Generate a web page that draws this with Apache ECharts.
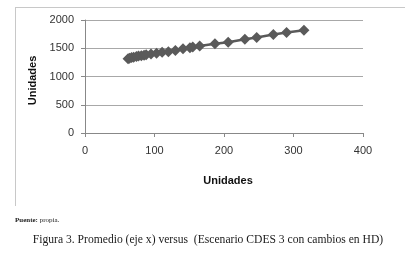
<!DOCTYPE html>
<html>
<head>
<meta charset="utf-8">
<script src="https://cdn.jsdelivr.net/npm/echarts@6/dist/echarts.min.js"></script>
<style>
html,body{margin:0;padding:0;background:#fff;}
#c{width:405px;height:256px;}
</style>
</head>
<body>
<div id="c"></div>
<script>
var xValues = [62, 64, 67, 70, 74, 77, 81, 85, 88, 95, 103, 111, 120, 130, 141, 151, 155, 165, 187, 206, 230, 247, 271, 290, 315];
var yValues = [1315, 1322, 1335, 1342, 1355, 1362, 1368, 1378, 1386, 1398, 1410, 1427, 1440, 1462, 1490, 1510, 1520, 1540, 1578, 1608, 1660, 1692, 1742, 1779, 1820];
var xTicks = [0, 100, 200, 300, 400];
var yTicks = [0, 500, 1000, 1500, 2000];
var axisTitleX = 'Unidades';
var axisTitleY = 'Unidades';
var sourceLabel = 'Puente:';
var sourceText = ' propia.';
var caption = 'Figura 3. Promedio (eje x) versus  (Escenario CDES 3 con cambios en HD)';

var points = xValues.map(function (x, i) { return [x, yValues[i]]; });

var chart = echarts.init(document.getElementById('c'), null, {renderer: 'canvas'});
chart.setOption({
  animation: false,
  backgroundColor: '#ffffff',
  grid: {left: 85, right: 42, top: 20, bottom: 123, containLabel: false},
  xAxis: {
    type: 'value',
    min: xTicks[0], max: xTicks[xTicks.length - 1], interval: 100,
    name: axisTitleX, nameLocation: 'middle', nameGap: 42,
    nameTextStyle: {fontFamily: 'Liberation Sans, Arial', fontWeight: 'bold', fontSize: 11, color: '#111', padding: [0, 0, 0, 8]},
    axisLine: {show: true, lineStyle: {color: '#888', width: 1}},
    axisTick: {show: true, inside: false, length: 4, lineStyle: {color: '#888'}},
    axisLabel: {margin: 12, fontFamily: 'Liberation Sans, Arial', fontSize: 11, color: '#333',
      formatter: function (v) { return String(v); }},
    splitLine: {show: false}
  },
  yAxis: {
    type: 'value',
    min: yTicks[0], max: yTicks[yTicks.length - 1], interval: 500,
    name: axisTitleY, nameLocation: 'middle', nameGap: 46,
    nameTextStyle: {fontFamily: 'Liberation Sans, Arial', fontWeight: 'bold', fontSize: 11, color: '#111', padding: [0, 8, 0, 0]},
    axisLine: {show: true, lineStyle: {color: '#888', width: 1}},
    axisTick: {show: true, inside: false, length: 4, lineStyle: {color: '#888'}},
    axisLabel: {margin: 11, fontFamily: 'Liberation Sans, Arial', fontSize: 11, color: '#333',
      formatter: function (v) { return String(v); }},
    splitLine: {show: true, lineStyle: {color: '#a8a8a8', width: 1}}
  },
  series: [{
    type: 'line',
    data: points,
    symbol: 'diamond',
    symbolSize: 11,
    lineStyle: {color: '#5a5a5a', width: 2.5},
    itemStyle: {color: '#5a5a5a'}
  }],
  graphic: [
    {type: 'line', shape: {x1: 15, y1: 7.5, x2: 405, y2: 7.5}, style: {stroke: '#c8c8c8', lineWidth: 1}},
    {type: 'line', shape: {x1: 15.5, y1: 7, x2: 15.5, y2: 206}, style: {stroke: '#c8c8c8', lineWidth: 1}},
    {type: 'text', left: 15, top: 217, style: {
      text: '{b|' + sourceLabel + '}{n|' + sourceText + '}',
      rich: {
        b: {fontFamily: 'Liberation Serif, serif', fontWeight: 'bold', fontSize: 7, fill: '#222'},
        n: {fontFamily: 'Liberation Serif, serif', fontSize: 7, fill: '#222'}
      }
    }},
    {type: 'text', x: 208, y: 240, style: {
      text: caption, fontFamily: 'Liberation Serif, serif', fontSize: 11.6, fill: '#1a1a1a',
      textAlign: 'center', textVerticalAlign: 'middle'
    }}
  ]
});
</script>
</body>
</html>
